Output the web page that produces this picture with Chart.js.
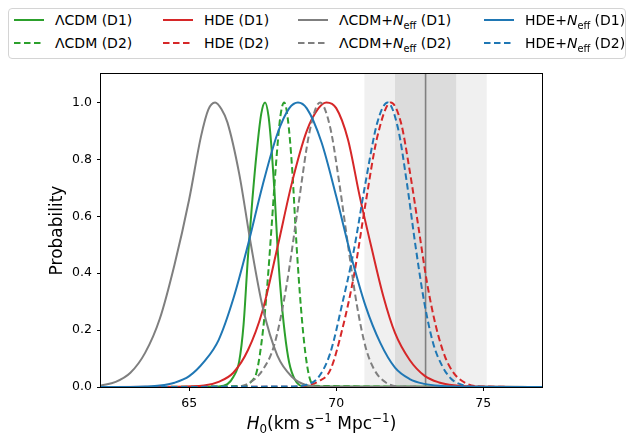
<!DOCTYPE html>
<html>
<head>
<meta charset="utf-8">
<script src="https://cdn.jsdelivr.net/npm/chart.js@4/dist/chart.umd.min.js"></script>
<style>
  body { margin: 0; background: #fff; }
  #wrap { position: relative; width: 631px; height: 435px; font-family: "DejaVu Sans", sans-serif; color: #000; }
  #legend { position: absolute; left: 8px; top: 8px; width: 616px; height: 49px; border: 1px solid #d4d4d4; border-radius: 4px; background: #fff; }
  .item { position: absolute; font-size: 14px; line-height: 16px; white-space: nowrap; }
  .item svg { position: absolute; left: 0; top: 6px; }
  .item span { position: absolute; left: 41px; top: 0; }
  #xtitle { position: absolute; left: 101px; width: 441px; top: 413px; text-align: center; font-size: 17px; line-height: 20px; white-space: nowrap; }
  sub, sup { font-size: 70%; line-height: 0; }
</style>
</head>
<body>
<div id="wrap">
  <canvas id="c" width="631" height="435"></canvas>
  <div id="legend"></div>
  <div id="xtitle"><i>H</i><sub>0</sub>(km s<sup>−1</sup> Mpc<sup>−1</sup>)</div>
</div>
<script>
// H0 posteriors (normalised to peak = 1)
const lcdmD1_h = [62, 66.0, 66.3, 66.5, 66.7, 66.85, 67.0, 67.15, 67.3, 67.45, 67.58, 67.7, 67.8, 67.9, 68.0, 68.1, 68.25, 68.4, 68.6, 68.9, 77];
const lcdmD1_p = [0, 0.002, 0.01, 0.035, 0.09, 0.22, 0.46, 0.66, 0.83, 0.96, 1.0, 0.95, 0.84, 0.69, 0.5, 0.35, 0.19, 0.086, 0.025, 0.002, 0];

const lcdmD2_h = [62, 66.9, 67.1, 67.3, 67.5, 67.65, 67.8, 67.95, 68.1, 68.23, 68.35, 68.5, 68.65, 68.8, 68.95, 69.1, 69.3, 77];
const lcdmD2_p = [0, 0.004, 0.018, 0.055, 0.19, 0.35, 0.56, 0.78, 0.95, 1.0, 0.946, 0.77, 0.5, 0.28, 0.12, 0.03, 0.004, 0];

const hdeD1_h = [62, 64.5, 65.5, 66.0, 66.5, 67.0, 67.5, 68.0, 68.5, 69.0, 69.4, 69.67, 70.0, 70.4, 70.8, 71.2, 71.6, 72.0, 72.5, 73.0, 73.5, 74.0, 75.0, 77];
const hdeD1_p = [0, 0.001, 0.005, 0.018, 0.05, 0.13, 0.27, 0.49, 0.72, 0.9, 0.98, 1.0, 0.98, 0.87, 0.67, 0.49, 0.32, 0.19, 0.095, 0.04, 0.016, 0.006, 0.001, 0];

const hdeD2_h = [62, 68.5, 69.0, 69.4, 69.8, 70.2, 70.6, 71.0, 71.4, 71.86, 72.2, 72.5, 72.8, 73.1, 73.4, 73.7, 74.0, 74.4, 74.9, 77];
const hdeD2_p = [0, 0.001, 0.005, 0.02, 0.06, 0.2, 0.39, 0.646, 0.88, 1.0, 0.93, 0.76, 0.56, 0.36, 0.21, 0.107, 0.049, 0.014, 0.002, 0];

const lcdmNeffD1_h = [62, 62.5, 63.0, 63.5, 64.0, 64.5, 65.0, 65.4, 65.65, 65.88, 66.1, 66.3, 66.7, 67.1, 67.5, 68.0, 68.5, 69.0, 69.5, 77];
const lcdmNeffD1_p = [0.005, 0.018, 0.05, 0.12, 0.24, 0.43, 0.66, 0.88, 0.975, 1.0, 0.976, 0.93, 0.75, 0.5, 0.28, 0.11, 0.035, 0.006, 0.001, 0];

const lcdmNeffD2_h = [62, 66.5, 67.0, 67.5, 67.9, 68.3, 68.7, 69.1, 69.45, 69.8, 70.1, 70.4, 70.7, 71.0, 71.3, 71.7, 72.2, 77];
const lcdmNeffD2_p = [0, 0.001, 0.012, 0.06, 0.15, 0.35, 0.63, 0.9, 1.0, 0.91, 0.72, 0.5, 0.29, 0.14, 0.06, 0.015, 0.002, 0];

const hdeNeffD1_h = [62, 63, 63.5, 64, 64.5, 65, 65.5, 66, 66.5, 67, 67.5, 68, 68.4, 68.7, 69.0, 69.5, 70, 70.5, 71, 71.5, 72, 72.5, 73, 73.5, 74.5, 77];
const hdeNeffD1_p = [0, 0.0004, 0.0016, 0.005, 0.015, 0.038, 0.088, 0.165, 0.31, 0.5, 0.71, 0.89, 0.979, 1.0, 0.979, 0.86, 0.67, 0.463, 0.284, 0.155, 0.068, 0.028, 0.011, 0.004, 0.0005, 0];

const hdeNeffD2_h = [62, 68.5, 69.0, 69.4, 69.8, 70.2, 70.6, 71.0, 71.4, 71.75, 72.1, 72.4, 72.7, 73.0, 73.3, 73.6, 73.9, 74.3, 74.8, 77];
const hdeNeffD2_p = [0, 0.002, 0.008, 0.035, 0.12, 0.29, 0.48, 0.72, 0.93, 1.0, 0.91, 0.72, 0.494, 0.295, 0.153, 0.075, 0.03, 0.007, 0.0005, 0];

// local H0 measurement: central value, 1 sigma and 2 sigma ranges
const localH0 = 73.04;
const localH0_1sig = [72.0, 74.08];
const localH0_2sig = [70.96, 75.12];

const models = ["ΛCDM", "HDE", "ΛCDM+Neff", "HDE+Neff"];
const runs = ["D1", "D2"];
const colors = ["#2ca02c", "#d62728", "#7f7f7f", "#1f77b4"];
const curves = [
  [[lcdmD1_h, lcdmD1_p], [lcdmD2_h, lcdmD2_p]],
  [[hdeD1_h, hdeD1_p], [hdeD2_h, hdeD2_p]],
  [[lcdmNeffD1_h, lcdmNeffD1_p], [lcdmNeffD2_h, lcdmNeffD2_p]],
  [[hdeNeffD1_h, hdeNeffD1_p], [hdeNeffD2_h, hdeNeffD2_p]]
];

const xTicks = [65, 70, 75];
const yTicks = [0, 0.2, 0.4, 0.6, 0.8, 1.0];

const FONT = "DejaVu Sans";
const DASH = [6.5, 3.5];

// datasets, later ones drawn on top like matplotlib
const datasets = [];
let n = 0;
models.forEach((m, i) => {
  runs.forEach((r, j) => {
    const [hs, ps] = curves[i][j];
    datasets.push({
      label: `${m} (${r})`,
      data: hs.map((h, k) => ({ x: h, y: ps[k] })),
      borderColor: colors[i],
      borderWidth: 2,
      borderDash: j === 1 ? DASH : [],
      pointRadius: 0,
      fill: false,
      cubicInterpolationMode: "monotone",
      order: 100 - n
    });
    n++;
  });
});

// HTML legend (two rows, one column per model)
const legendCols = [14, 163, 298, 484];
const legendRows = [12, 35];
const wrap = document.getElementById("wrap");
function labelHtml(m) {
  return m.replace("Neff", "<i>N</i><sub>eff</sub>");
}
models.forEach((m, i) => {
  runs.forEach((r, j) => {
    const d = document.createElement("div");
    d.className = "item";
    d.style.left = legendCols[i] + "px";
    d.style.top = legendRows[j] + "px";
    const dash = j === 1 ? ` stroke-dasharray="${DASH.join(",")}"` : "";
    d.innerHTML = `<svg width="30" height="4"><line x1="0" y1="2" x2="30" y2="2" stroke="${colors[i]}" stroke-width="2"${dash}/></svg>` +
      `<span>${labelHtml(m)} (${r})</span>`;
    wrap.appendChild(d);
  });
});

const bands = {
  id: "bands",
  beforeDatasetsDraw(chart) {
    const { ctx, chartArea: a, scales: { x } } = chart;
    const px = v => x.getPixelForValue(v);
    ctx.save();
    ctx.fillStyle = "#f0f0f0";
    ctx.fillRect(px(localH0_2sig[0]), a.top, px(localH0_2sig[1]) - px(localH0_2sig[0]), a.bottom - a.top);
    ctx.fillStyle = "#dcdcdc";
    ctx.fillRect(px(localH0_1sig[0]), a.top, px(localH0_1sig[1]) - px(localH0_1sig[0]), a.bottom - a.top);
    ctx.strokeStyle = "#808080";
    ctx.lineWidth = 1.6;
    ctx.beginPath();
    ctx.moveTo(px(localH0), a.top);
    ctx.lineTo(px(localH0), a.bottom);
    ctx.stroke();
    ctx.restore();
  }
};

const frame = {
  id: "frame",
  afterDraw(chart) {
    const { ctx, chartArea: a } = chart;
    ctx.save();
    ctx.strokeStyle = "#000";
    ctx.lineWidth = 1;
    ctx.strokeRect(a.left - 0.5, a.top - 0.5, a.right - a.left + 1, a.bottom - a.top + 1);
    ctx.restore();
  }
};

new Chart(document.getElementById("c"), {
  type: "line",
  data: { datasets },
  options: {
    responsive: false,
    animation: false,
    events: [],
    layout: { padding: { left: 0, right: 89, top: 74, bottom: 0 } },
    plugins: { legend: { display: false }, tooltip: { enabled: false } },
    scales: {
      x: {
        type: "linear",
        min: 62,
        max: 77,
        afterBuildTicks: s => { s.ticks = xTicks.map(v => ({ value: v })); },
        afterFit: s => { s.height = 48; },
        ticks: { color: "#000", font: { family: FONT, size: 12.5 }, padding: 5, maxRotation: 0, callback: v => String(v) },
        grid: { drawOnChartArea: false, drawTicks: true, tickLength: 4, color: "#000" },
        border: { display: false }
      },
      y: {
        min: 0,
        max: 1.1,
        afterBuildTicks: s => { s.ticks = yTicks.map(v => ({ value: v })); },
        afterFit: s => { s.width = 101; },
        ticks: { color: "#000", font: { family: FONT, size: 12.5 }, padding: 5, callback: v => v.toFixed(1) },
        grid: { drawOnChartArea: false, drawTicks: true, tickLength: 4, color: "#000" },
        border: { display: false },
        title: { display: true, text: "Probability", color: "#000", font: { family: FONT, size: 17 }, padding: { top: 47, bottom: 0 } }
      }
    }
  },
  plugins: [bands, frame]
});
</script>
</body>
</html>
